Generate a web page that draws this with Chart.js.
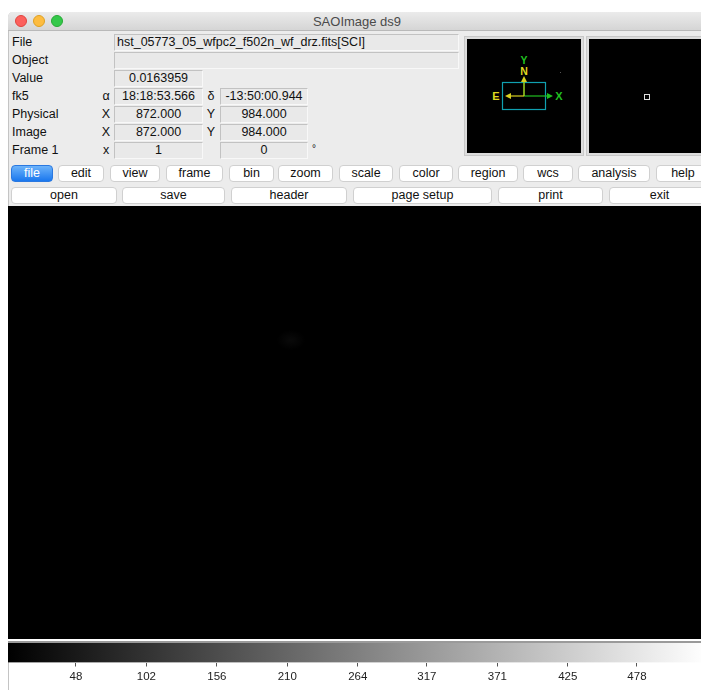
<!DOCTYPE html>
<html>
<head>
<meta charset="utf-8">
<script src="https://cdn.jsdelivr.net/npm/chart.js@4.4.1/dist/chart.umd.min.js"></script>
<style>
html,body{margin:0;padding:0;background:#fff;width:701px;height:690px;overflow:hidden;font-family:"Liberation Sans",Arial,sans-serif;}
.a{position:absolute;}
#win{left:8px;top:12px;width:698px;height:700px;background:#ececec;border-left:1px solid #c4c4c4;box-sizing:border-box;border-radius:5px 5px 0 0;}
#title{left:8px;top:12px;width:698px;height:19px;background:linear-gradient(#ebebeb,#d5d5d5);border-bottom:1px solid #b9b9b9;box-sizing:border-box;border-radius:5px 5px 0 0;text-align:center;font-size:13px;line-height:19px;color:#4a4a4a;}
.dot{width:12px;height:12px;border-radius:50%;top:15px;box-sizing:border-box;}
.lbl{font-size:12.5px;color:#111;line-height:17px;}
.fld{height:17px;background:#e9e9e9;border:1px solid #c2c2c2;border-right-color:#f8f8f8;border-bottom-color:#f8f8f8;box-sizing:border-box;font-size:12.5px;line-height:15px;color:#111;text-align:center;}
.btn{height:17px;background:#fff;border:1px solid #d0d0d0;border-radius:4px;box-sizing:border-box;font-size:12.5px;line-height:15px;text-align:center;color:#111;}
.btn.sel{background:linear-gradient(#6cb3fa,#1a77ee);border-color:#2a78e0;color:#fff;}
</style>
</head>
<body>
<div id="win" class="a"></div>
<div id="title" class="a">SAOImage ds9</div>
<div class="a dot" style="left:15px;background:#fc605c;border:1px solid #e0443e;"></div>
<div class="a dot" style="left:33px;background:#fdbc40;border:1px solid #dea123;"></div>
<div class="a dot" style="left:51px;background:#34c84a;border:1px solid #27aa35;"></div>
<div id="info"></div>
<div id="buttons"></div>

<!-- panner -->
<div class="a" style="left:464px;top:36px;width:120px;height:120px;background:#dcdcdc;border:1px solid #c8c8c8;box-sizing:border-box;"></div>
<div class="a" style="left:467px;top:39px;width:114px;height:114px;background:#000;">
<svg width="114" height="114" style="display:block">
  <rect x="35.5" y="43.5" width="43" height="27" fill="none" stroke="#10a0b0" stroke-width="1.2"/>
  <line x1="57" y1="57" x2="57" y2="40" stroke="#20c020" stroke-width="1.2"/>
  <line x1="57" y1="57" x2="82" y2="57" stroke="#20c020" stroke-width="1.2"/>
  <polygon points="86,57 80,54 80,60" fill="#20c020"/>
  <line x1="57" y1="57" x2="42" y2="57" stroke="#d8d020" stroke-width="1.2"/>
  <polygon points="38,57 44,54 44,60" fill="#d8d020"/>
  <line x1="57" y1="57" x2="57" y2="41" stroke="#d8d020" stroke-width="1"/>
  <polygon points="57,37 54,43 60,43" fill="#d8d020"/>
  <text x="57" y="25" fill="#20c020" font-size="10.5" font-weight="bold" text-anchor="middle" font-family="Liberation Sans">Y</text>
  <text x="57" y="36" fill="#e0d820" font-size="10.5" font-weight="bold" text-anchor="middle" font-family="Liberation Sans">N</text>
  <text x="29" y="61" fill="#e0d820" font-size="11" font-weight="bold" text-anchor="middle" font-family="Liberation Sans">E</text>
  <text x="92" y="61" fill="#20c020" font-size="11" font-weight="bold" text-anchor="middle" font-family="Liberation Sans">X</text>
  <rect x="93" y="33" width="1" height="1" fill="#555"/>
</svg>
</div>
<!-- magnifier -->
<div class="a" style="left:586px;top:36px;width:130px;height:120px;background:#dcdcdc;border:1px solid #c8c8c8;box-sizing:border-box;"></div>
<div class="a" style="left:589px;top:39px;width:120px;height:114px;background:#000;">
  <div class="a" style="left:55px;top:55px;width:4px;height:4px;border:1px solid #ddd;"></div>
</div>

<!-- image area -->
<div class="a" style="left:8px;top:206px;width:700px;height:433px;background:#000;">
  <div class="a" style="left:266px;top:122px;width:34px;height:24px;background:radial-gradient(ellipse at center, rgba(255,255,255,0.04), rgba(255,255,255,0) 60%);"></div>
</div>
<div class="a" style="left:8px;top:639px;width:700px;height:2px;background:#fff;"></div>
<div class="a" style="left:8px;top:641px;width:700px;height:2px;background:#9a9a9a;"></div>
<div class="a" style="left:8px;top:660px;width:700px;height:40px;background:#fff;border-left:1px solid #c4c4c4;box-sizing:border-box;"></div>

<div class="a" style="left:8px;top:643px;width:693px;height:39px;">
  <canvas id="cb" width="693" height="39"></canvas>
</div>

<script>
// ---- data ----
const colorbarTicks = [48, 102, 156, 210, 264, 317, 371, 425, 478];
const colorbarRange = [-4.1, 527.1];

const infoLabels = ["File", "Object", "Value", "fk5", "Physical", "Image", "Frame 1"];
const infoAxisLeft = ["", "", "", "\u03b1", "X", "X", "x"];
const infoAxisRight = ["", "", "", "\u03b4", "Y", "Y", ""];
const infoValuesLeft = ["hst_05773_05_wfpc2_f502n_wf_drz.fits[SCI]", "", "0.0163959", "18:18:53.566", "872.000", "872.000", "1"];
const infoValuesRight = ["", "", "", "-13:50:00.944", "984.000", "984.000", "0"];

const menuButtons = ["file", "edit", "view", "frame", "bin", "zoom", "scale", "color", "region", "wcs", "analysis", "help"];
const menuEdges = [[11,53],[58,104],[110,160],[166,223],[229,274],[278,333],[339,393],[399,453],[458,518],[523,573],[578,650],[656,710]];
const subButtons = ["open", "save", "header", "page setup", "print", "exit"];
const subEdges = [[11,117],[122,225],[231,347],[353,492],[498,603],[609,710]];

// ---- info panel ----
const info = document.getElementById('info');
function add(html){ info.insertAdjacentHTML('beforeend', html); }
infoLabels.forEach((lab, i) => {
  const top = 34 + i * 18;
  add(`<div class="a lbl" style="left:12px;top:${top}px;">${lab}</div>`);
  if (infoAxisLeft[i]) add(`<div class="a lbl" style="left:101px;top:${top}px;width:10px;text-align:center;">${infoAxisLeft[i]}</div>`);
  if (i < 2) {
    add(`<div class="a fld" style="left:114px;top:${top}px;width:345px;text-align:left;padding-left:2px;">${infoValuesLeft[i]}</div>`);
  } else {
    add(`<div class="a fld" style="left:114px;top:${top}px;width:89px;">${infoValuesLeft[i]}</div>`);
  }
  if (i >= 3) {
    if (infoAxisRight[i]) add(`<div class="a lbl" style="left:206px;top:${top}px;width:10px;text-align:center;">${infoAxisRight[i]}</div>`);
    add(`<div class="a fld" style="left:220px;top:${top}px;width:88px;">${infoValuesRight[i]}</div>`);
  }
});
add(`<div class="a lbl" style="left:312px;top:${34+6*18-2}px;font-size:10px;">&#176;</div>`);

// ---- buttons ----
const bt = document.getElementById('buttons');
menuButtons.forEach((b, i) => {
  const [l, r] = menuEdges[i];
  bt.insertAdjacentHTML('beforeend', `<div class="a btn${i===0?' sel':''}" style="left:${l}px;top:165px;width:${r-l}px;">${b}</div>`);
});
subButtons.forEach((b, i) => {
  const [l, r] = subEdges[i];
  bt.insertAdjacentHTML('beforeend', `<div class="a btn" style="left:${l}px;top:187px;width:${r-l}px;">${b}</div>`);
});

// ---- colorbar via Chart.js ----
new Chart(document.getElementById('cb'), {
  type: 'bar',
  data: {
    labels: ['cb'],
    datasets: [{
      data: [colorbarRange],
      backgroundColor: (ctx) => {
        const ca = ctx.chart.chartArea;
        if (!ca) return '#888';
        const g = ctx.chart.ctx.createLinearGradient(ca.left, 0, ca.left + ca.width * 698 / 693, 0);
        g.addColorStop(0, '#000');
        g.addColorStop(1, '#fff');
        return g;
      },
      borderWidth: 0,
      barPercentage: 1,
      categoryPercentage: 1
    }]
  },
  options: {
    indexAxis: 'y',
    responsive: false,
    animation: false,
    layout: { padding: 0 },
    plugins: { legend: { display: false }, tooltip: { enabled: false } },
    scales: {
      y: { display: false },
      x: {
        type: 'linear',
        min: colorbarRange[0],
        max: colorbarRange[1],
        afterBuildTicks: (axis) => { axis.ticks = colorbarTicks.map(v => ({ value: v })); },
        border: { display: false },
        grid: { drawOnChartArea: false, drawTicks: true, tickLength: 4, color: '#555', lineWidth: 1 },
        ticks: {
          padding: 3,
          color: '#222',
          font: { family: '"Liberation Sans Narrow","Liberation Sans",Arial', size: 11.5 },
          maxRotation: 0,
          autoSkip: false,
          callback: (v) => String(v)
        }
      }
    }
  }
});
</script>
</body>
</html>
